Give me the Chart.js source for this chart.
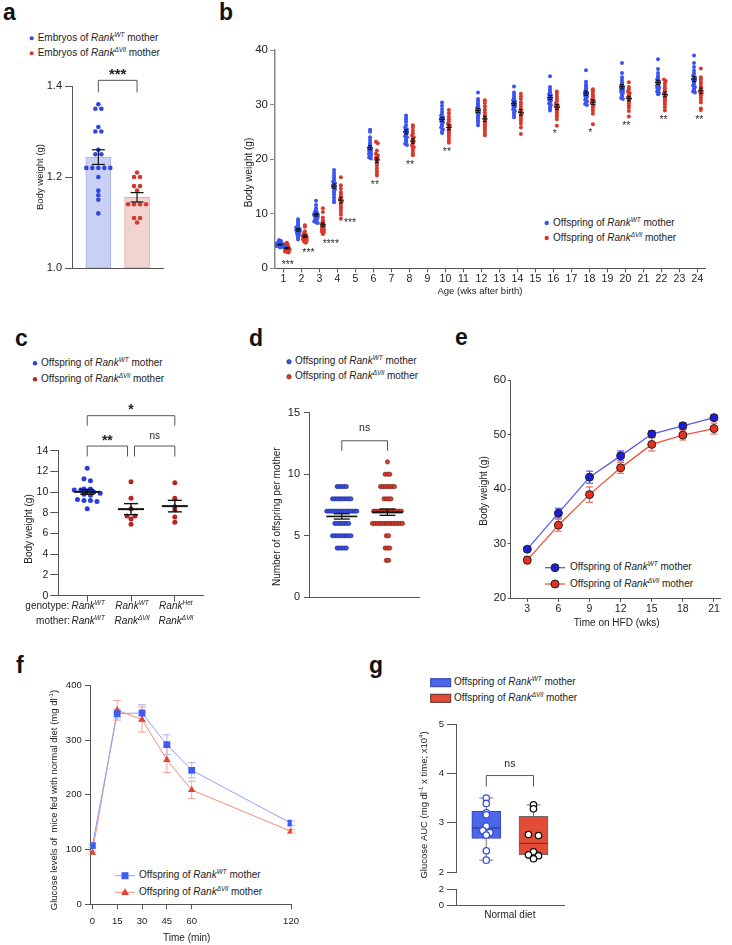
<!DOCTYPE html>
<html><head><meta charset="utf-8">
<script src="https://cdn.jsdelivr.net/npm/chart.js@4.4.1/dist/chart.umd.min.js"></script>
<style>
html,body{margin:0;padding:0;background:#fff;}
#root{position:relative;width:732px;height:945px;overflow:hidden;font-family:'Liberation Sans',Arial,Helvetica,sans-serif;color:#222;}
#root canvas{position:absolute;}
.pl{position:absolute;font-weight:bold;font-size:23px;line-height:23px;color:#111;}
.lg{position:absolute;font-size:10px;line-height:12px;white-space:nowrap;color:#222;}
.lg sup{font-size:6.5px;font-style:italic;vertical-align:baseline;position:relative;top:-4px;}
#lgsvg{position:absolute;left:0;top:0;}
</style></head>
<body><div id="root">
<div class="pl" style="left:3px;top:0.5px">a</div>
<div class="pl" style="left:219px;top:1.2px">b</div>
<div class="pl" style="left:15px;top:326.5px">c</div>
<div class="pl" style="left:249px;top:327.2px">d</div>
<div class="pl" style="left:455px;top:326.2px">e</div>
<div class="pl" style="left:16px;top:653.8px">f</div>
<div class="pl" style="left:369px;top:653.5px">g</div>

<svg id="lgsvg" width="732" height="945">
  <circle cx="31.7" cy="38.3" r="2" fill="#3146dc"/>
  <circle cx="31.7" cy="53.3" r="2" fill="#d23b2c"/>
  <circle cx="546.7" cy="223" r="2.2" fill="#3a55ee"/>
  <circle cx="546.7" cy="238" r="2.2" fill="#d8392b"/>
  <circle cx="35" cy="363.3" r="2.2" fill="#2a3de0"/>
  <circle cx="35" cy="379.3" r="2.2" fill="#b3261e"/>
  <circle cx="289" cy="361.7" r="2.2" fill="#3d52e6" stroke="#1c2a8c" stroke-width="0.7"/>
  <circle cx="289" cy="376.7" r="2.2" fill="#d8402f" stroke="#7a1a10" stroke-width="0.7"/>
  <line x1="545" y1="567.7" x2="565" y2="567.7" stroke="#5a5af2" stroke-width="1.3"/>
  <circle cx="555" cy="567.7" r="4" fill="#1e1ed6" stroke="#222" stroke-width="1"/>
  <line x1="545" y1="584" x2="565" y2="584" stroke="#f0503c" stroke-width="1.3"/>
  <circle cx="555" cy="584" r="4" fill="#e8321e" stroke="#222" stroke-width="1"/>
  <line x1="115" y1="875.7" x2="135" y2="875.7" stroke="#8fa2f3" stroke-width="1"/>
  <rect x="121.5" y="872.2" width="7" height="7" fill="#3d5cf6"/>
  <line x1="115" y1="892.3" x2="135" y2="892.3" stroke="#f28b7b" stroke-width="1"/>
  <polygon points="125,888.3 129,895 121,895" fill="#e5432f"/>
  <rect x="430.7" y="678.7" width="20" height="8" fill="#4c66ea" stroke="#2b3ca8" stroke-width="1"/>
  <rect x="430.7" y="694.3" width="20" height="8" fill="#e24b35" stroke="#5a2a20" stroke-width="1"/>
</svg>

<div class="lg" style="left:37.7px;top:31.8px">Embryos of <i>Rank</i><sup>WT</sup> mother</div>
<div class="lg" style="left:37.7px;top:46.8px">Embryos of <i>Rank</i><sup>ΔVil</sup> mother</div>
<div class="lg" style="left:553px;top:216.5px">Offspring of <i>Rank</i><sup>WT</sup> mother</div>
<div class="lg" style="left:553px;top:231.5px">Offspring of <i>Rank</i><sup>ΔVil</sup> mother</div>
<div class="lg" style="left:41px;top:356.8px">Offspring of <i>Rank</i><sup>WT</sup> mother</div>
<div class="lg" style="left:41px;top:372.8px">Offspring of <i>Rank</i><sup>ΔVil</sup> mother</div>
<div class="lg" style="left:295px;top:355.2px">Offspring of <i>Rank</i><sup>WT</sup> mother</div>
<div class="lg" style="left:295px;top:370.2px">Offspring of <i>Rank</i><sup>ΔVil</sup> mother</div>
<div class="lg" style="left:570px;top:561.2px">Offspring of <i>Rank</i><sup>WT</sup> mother</div>
<div class="lg" style="left:570px;top:577.5px">Offspring of <i>Rank</i><sup>ΔVil</sup> mother</div>
<div class="lg" style="left:139px;top:869.2px">Offspring of <i>Rank</i><sup>WT</sup> mother</div>
<div class="lg" style="left:139px;top:885.8px">Offspring of <i>Rank</i><sup>ΔVil</sup> mother</div>
<div class="lg" style="left:454px;top:676.2px">Offspring of <i>Rank</i><sup>WT</sup> mother</div>
<div class="lg" style="left:454px;top:691.8px">Offspring of <i>Rank</i><sup>ΔVil</sup> mother</div>
</div>
<script>
const FF = "'Liberation Sans', Arial, Helvetica, sans-serif";

// ================= DATA =================
// (a) embryo body weight (g)
const aWT  = [1.36,1.35,1.35,1.31,1.30,1.30,1.26,1.25,1.25,1.22,1.22,1.22,1.22,1.22,1.20,1.17,1.16,1.15,1.12];
const aVil = [1.21,1.20,1.20,1.18,1.18,1.17,1.14,1.14,1.14,1.14,1.11,1.11,1.10];
const aYTicks = [1.0, 1.2, 1.4];
const aSig = '***';

// (b) body weight by age (weeks)
const bWeeks  = [1,2,3,4,6,8,10,12,14,16,18,20,22,24];
const bXTicks = [1,2,3,4,5,6,7,8,9,10,11,12,13,14,15,16,17,18,19,20,21,22,23,24];
const bYTicks = [0,10,20,30,40];
const bWT = [
 [5.2,5.0,4.8,4.7,4.6,4.5,4.4,4.4,4.3,4.3,4.2,4.1,4.1,4.0,4.0,3.9,3.9,3.8],
 [9.0,8.7,8.4,8.0,7.7,7.5,7.3,7.2,7.0,6.9,6.8,6.6,6.5,6.3,6.1,5.9,5.6,5.3],
 [12.4,11.6,11.0,10.6,10.4,10.2,10.0,9.9,9.8,9.7,9.5,9.4,9.2,9.0,8.8,8.6,8.4,8.3],
 [18.0,17.5,17.0,16.6,16.2,15.9,15.6,15.4,15.2,15.0,14.8,14.5,14.2,13.9,13.5,13.0,12.5,12.1],
 [25.4,25.0,24.0,23.5,23.0,22.7,22.4,22.1,21.9,21.7,21.5,21.3,21.1,20.9,20.7,20.5,20.3,20.1],
 [28.0,27.6,27.2,26.8,26.2,25.8,25.5,25.2,25.0,24.8,24.5,24.2,24.0,23.7,23.4,23.1,22.8,22.6],
 [30.4,29.8,29.2,28.7,28.3,28.0,27.7,27.5,27.3,27.1,26.9,26.7,26.4,26.1,25.8,25.5,25.1,24.8],
 [32.2,31.0,30.7,30.3,30.0,29.7,29.4,29.2,29.0,28.8,28.6,28.4,28.1,27.8,27.5,27.1,26.7,26.2],
 [33.3,32.2,31.8,31.4,31.1,30.8,30.6,30.4,30.2,30.0,29.8,29.6,29.4,29.1,28.8,28.5,28.1,27.7],
 [35.2,33.2,32.8,32.5,32.2,31.9,31.7,31.5,31.3,31.1,30.9,30.7,30.5,30.2,29.9,29.6,29.3,28.9],
 [36.3,34.2,33.7,33.3,33.0,32.7,32.4,32.2,32.0,31.8,31.6,31.4,31.2,30.9,30.6,30.3,30.1,29.9],
 [37.6,35.8,35.0,34.5,34.1,33.8,33.5,33.3,33.1,32.9,32.7,32.5,32.3,32.1,31.8,31.5,31.2,31.0],
 [38.3,36.5,35.8,35.3,34.9,34.6,34.3,34.1,33.9,33.7,33.5,33.3,33.1,32.9,32.6,32.4,32.1,31.9],
 [39.0,37.6,36.9,36.2,35.7,35.3,35.0,34.8,34.6,34.4,34.1,33.8,33.5,33.2,32.9,32.6,32.4,32.2]
];
const bVil = [
 [4.7,4.5,4.3,4.1,4.0,3.9,3.8,3.7,3.6,3.5,3.4,3.3,3.2,3.1,3.0,2.9],
 [7.9,7.6,6.8,6.4,6.2,6.0,5.9,5.8,5.6,5.5,5.4,5.3,5.1,5.0,4.9,4.7],
 [11.0,10.3,9.3,8.8,8.5,8.2,8.0,7.8,7.6,7.4,7.2,7.0,6.9,6.7,6.5,6.3],
 [16.7,15.2,14.6,14.0,13.6,13.2,12.9,12.6,12.3,12.0,11.6,11.2,10.8,10.3,9.8,9.1],
 [23.2,22.9,21.6,21.0,20.7,20.4,20.2,20.0,19.8,19.5,19.2,18.8,18.3,17.8,17.3,17.0],
 [26.2,25.8,25.2,24.7,24.3,24.0,23.7,23.4,23.1,22.8,22.5,22.2,21.9,21.5,21.1,20.7],
 [29.0,28.4,27.8,27.3,26.9,26.5,26.2,25.9,25.6,25.3,25.0,24.7,24.3,23.9,23.4,23.0],
 [30.8,30.3,29.7,29.1,28.6,28.1,27.7,27.4,27.1,26.8,26.4,26.0,25.6,25.2,24.8,24.4],
 [32.0,31.5,31.0,30.4,29.9,29.4,29.0,28.7,28.4,28.1,27.8,27.4,27.0,26.5,25.8,24.6],
 [32.4,32.0,31.5,31.0,30.6,30.2,29.9,29.7,29.5,29.2,28.9,28.6,28.2,27.8,27.3,26.1],
 [32.8,32.6,32.3,31.9,31.5,31.2,30.9,30.7,30.5,30.2,29.9,29.6,29.2,28.8,28.3,26.4],
 [34.1,33.2,32.8,32.4,32.1,31.8,31.5,31.3,31.1,30.8,30.5,30.2,29.8,29.4,28.8,27.8],
 [34.6,34.3,33.9,33.4,33.0,32.6,32.3,32.0,31.7,31.4,31.1,30.8,30.4,30.0,29.5,28.9],
 [36.6,35.0,34.6,34.2,33.8,33.4,33.0,32.7,32.4,32.1,31.7,31.3,30.9,30.4,29.3,29.0]
];
const bSig = ['***','***','****','***','**','**','**','','','*','*','**','**','**'];

// (c) body weight by genotype / mother
const cGenotype = ['WT','WT','Het'];
const cMother   = ['WT','ΔVil','ΔVil'];
const cWT    = [12.3,11.3,11.1,10.3,10.3,10.2,10.2,10.1,10.0,9.9,9.8,9.7,9.3,9.2,9.2,9.1,8.4];
const cVilWT = [11.0,9.4,8.4,7.7,7.7,7.4,6.9];
const cVilHet= [10.9,9.4,8.6,8.3,7.6,7.1];
const cYTicks = [0,2,4,6,8,10,12,14];
const cSig = ['*','**','ns'];

// (d) number of offspring per mother (value levels and counts)
const dLevels   = [3,4,5,6,7,8,9,10,11];
const dWTCount  = [0,5,9,7,14,9,5,0,0];
const dVilCount = [2,3,2,14,13,4,7,3,1];
const dYTicks = [0,5,10,15];
const dSig = 'ns';

// (e) body weight on HFD
const eWeeks  = [3,6,9,12,15,18,21];
const eWT     = [29.0,35.6,42.2,46.1,50.1,51.6,53.1];
const eWTsem  = [0.4,0.9,1.1,0.9,0.6,0.6,0.5];
const eVil    = [27.0,33.4,39.0,43.9,48.2,49.9,51.1];
const eVilsem = [0.7,1.1,1.4,1.0,1.2,0.9,1.0];
const eYTicks = [20,30,40,50,60];

// (f) glucose tolerance
const fTimes  = [0,15,30,45,60,120];
const fWT     = [107,349,350,292,245,148];
const fWTsem  = [3,8,15,18,14,4];
const fVil    = [94,355,338,264,209,133];
const fVilsem = [3,18,23,23,16,3];
const fYTicks = [0,100,200,300,400];

// (g) glucose AUC (x10^4)
const gCategory = 'Normal diet';
const gWT  = [3.50,3.39,3.20,3.16,2.93,2.84,2.80,2.75,2.43,2.24];
const gVil = [3.36,3.28,2.76,2.74,2.41,2.35,2.33,2.27];
const gWTBox  = [2.24,2.68,2.89,3.23,3.50];   // min, q1, median, q3, max
const gVilBox = [2.27,2.35,2.58,3.13,3.36];
const gYTicks = [2,3,4,5];
const gYTicksLow = [0,2];
const gSig = 'ns';

// ================= HELPERS =================
Chart.defaults.font.family = FF;
Chart.defaults.color = '#222';
Chart.defaults.animation = false;
Chart.defaults.responsive = false;
Chart.defaults.maintainAspectRatio = false;
Chart.defaults.devicePixelRatio = 1;
Chart.defaults.plugins.legend.display = false;
Chart.defaults.plugins.tooltip.enabled = false;
Chart.defaults.events = [];

const root = document.getElementById('root');
function makeCanvas(box){
  const c=document.createElement('canvas');
  c.width=box[2]; c.height=box[3];
  c.style.left=box[0]+'px'; c.style.top=box[1]+'px';
  c.style.width=box[2]+'px'; c.style.height=box[3]+'px';
  root.appendChild(c); return c;
}
function frame(box, area){
  return {padding:{left:0, top:area[1]-box[1], right:box[0]+box[2]-area[2], bottom:0},
          yw:area[0]-box[0], xh:box[1]+box[3]-area[3]};
}
function yAxis(fr,o){
  return {type:'linear', position:'left', min:o.min, max:o.max, offset:false,
    afterFit:s=>{s.width=fr.yw;},
    afterBuildTicks:s=>{s.ticks=o.ticks.map(v=>({value:v}));},
    ticks:{font:{size:o.fs}, color:'#222', padding:o.pad??3, autoSkip:false, callback:o.fmt||(v=>String(v))},
    grid:{drawOnChartArea:false, drawTicks:true, tickLength:o.tl??6, color:o.ac||'#555', lineWidth:1, offset:false},
    border:{display:true, color:o.ac||'#555', width:o.bw||1}};
}
function xAxis(fr,o){
  const a={type:'linear', position:'bottom', min:o.min, max:o.max, offset:false,
    afterFit:s=>{s.height=fr.xh;},
    ticks:{display:o.labels===true, font:{size:o.fs||10}, color:'#222', padding:o.pad??2, autoSkip:false, maxRotation:0, minRotation:0, callback:o.fmt||(v=>String(v))},
    grid:{display:(o.tl||0)>0, drawOnChartArea:false, drawTicks:true, tickLength:o.tl||0, color:o.ac||'#555', lineWidth:1, offset:false},
    border:{display:true, color:o.ac||'#555', width:1}};
  if(o.ticks) a.afterBuildTicks=s=>{s.ticks=o.ticks.map(v=>({value:v}));};
  return a;
}
function mean(a){return a.reduce((s,v)=>s+v,0)/a.length;}
function sem(a){const m=mean(a);return Math.sqrt(a.reduce((s,v)=>s+(v-m)*(v-m),0)/(a.length-1))/Math.sqrt(a.length);}
function rowSwarm(vals,yppu,binPx,spPx){
  const rows={};
  vals.forEach((v,i)=>{const k=Math.round(v*yppu/binPx);(rows[k]=rows[k]||[]).push(i);});
  const offs=new Array(vals.length).fill(0);
  Object.values(rows).forEach(idx=>idx.forEach((i,j)=>{offs[i]=(j-(idx.length-1)/2)*spPx;}));
  return offs;
}
function strip(vals,x0,xppu,yppu,binPx,spPx){
  const o=rowSwarm(vals,yppu,binPx,spPx);
  return vals.map((v,i)=>({x:x0+o[i]/xppu, y:v}));
}
function L(c,x1,y1,x2,y2){c.beginPath();c.moveTo(x1,y1);c.lineTo(x2,y2);c.stroke();}
function errBar(ch,x,m,s,o){
  const X=ch.scales.x.getPixelForValue(x), Y=ch.scales[o.yid||'y'];
  const ym=Y.getPixelForValue(m), yt=Y.getPixelForValue(m+s), yb=Y.getPixelForValue(m-s);
  const c=ch.ctx; c.save(); c.strokeStyle=o.color||'#111'; c.lineWidth=o.lw||1;
  L(c,X,yt,X,yb);
  if(o.cap){L(c,X-o.cap,yt,X+o.cap,yt);L(c,X-o.cap,yb,X+o.cap,yb);}
  if(o.mean){c.lineWidth=o.mlw||o.lw||1;L(c,X-o.mean,ym,X+o.mean,ym);}
  c.restore();
}
function ctext(c,t,x,yc,size,weight){
  c.font=(weight?weight+' ':'')+size+'px '+FF; c.textAlign='center'; c.textBaseline='alphabetic';
  const star=/^\*+$/.test(t);
  c.fillText(t,x,yc+(star?0.58:0.27)*size);
}
function bracket(ch,x1,x2,yTop,legPx,text,gapPx,size,weight,yid){
  const X=ch.scales.x, Y=ch.scales[yid||'y'], c=ch.ctx;
  const a=X.getPixelForValue(x1), b=X.getPixelForValue(x2), t=Y.getPixelForValue(yTop);
  c.save(); c.strokeStyle='#555'; c.lineWidth=1;
  c.beginPath(); c.moveTo(a,t+legPx); c.lineTo(a,t); c.lineTo(b,t); c.lineTo(b,t+legPx); c.stroke();
  c.fillStyle='#222'; ctext(c,text,(a+b)/2,t-gapPx,size,weight); c.restore();
}
function rich(c,segs,x,y,size,align){
  const f=s=>(s[2]?'italic ':'')+(s[1]?size*0.65:size)+'px '+FF;
  let w=0; const ws=[];
  segs.forEach(s=>{c.font=f(s);const m=c.measureText(s[0]).width;ws.push(m);w+=m;});
  let cx=align==='center'?x-w/2:align==='right'?x-w:x;
  c.textAlign='left'; c.textBaseline='alphabetic';
  segs.forEach((s,i)=>{c.font=f(s);c.fillText(s[0],cx,s[1]?y-size*0.4:y);cx+=ws[i];});
}
function vtitle(c,segs,x,y,size){c.save();c.fillStyle='#222';c.translate(x,y);c.rotate(-Math.PI/2);rich(c,segs,0,size*0.35,size,'center');c.restore();}
function htitle(c,segs,x,y,size){c.save();c.fillStyle='#222';rich(c,segs,x,y+size*0.35,size,'center');c.restore();}

// ================= PANEL a =================
(function(){
  const box=[0,30,190,270], fr=frame(box,[72,86,163,268]);
  new Chart(makeCanvas(box),{type:'scatter',
    data:{datasets:[
      {type:'bar', data:[{x:1,y:[aYTicks[0],mean(aWT)]},{x:2,y:[aYTicks[0],mean(aVil)]}],
       backgroundColor:['#c9d0f5','#f1d4d0'], borderColor:['#a7b1e4','#d9b1ab'], borderWidth:1, borderSkipped:false, barThickness:25, order:1},
      {data:strip(aWT,1,38.7,455,4,6), pointRadius:2.3, backgroundColor:'#3146dc', pointBackgroundColor:'#3146dc', pointBorderWidth:0, order:0},
      {data:strip(aVil,2,38.7,455,4,6), pointRadius:2.3, backgroundColor:'#d23b2c', pointBackgroundColor:'#d23b2c', pointBorderWidth:0, order:0}
    ]},
    options:{layout:{padding:fr.padding}, scales:{
      x:xAxis(fr,{min:0.32,max:2.67}),
      y:yAxis(fr,{min:1.0,max:1.4,ticks:aYTicks,fs:11,tl:7,pad:3,fmt:v=>Number(v).toFixed(1)})}},
    plugins:[{id:'pa',afterDatasetsDraw(ch){
      errBar(ch,1,mean(aWT),sem(aWT),{cap:6.5,lw:1.2});
      errBar(ch,2,mean(aVil),sem(aVil),{cap:6.5,lw:1.2});
      bracket(ch,1,2,1.4125,12,aSig,9.6,15,'bold');
      vtitle(ch.ctx,[['Body weight (g)']],40-box[0],177-box[1],9.5);
    }}]});
})();

// ================= PANEL b =================
(function(){
  const box=[200,30,532,275], fr=frame(box,[275,50,705,268.3]), dx=0.19;
  const wtPts=bWeeks.flatMap((w,i)=>strip(bWT[i],w-dx,18.02,5.46,2,1.8));
  const vilPts=bWeeks.flatMap((w,i)=>strip(bVil[i],w+dx,18.02,5.46,2,1.8));
  new Chart(makeCanvas(box),{type:'scatter',
    data:{datasets:[
      {data:wtPts, pointRadius:2, backgroundColor:'#3a55ee', pointBackgroundColor:'#3a55ee', pointBorderWidth:0},
      {data:vilPts, pointRadius:2, backgroundColor:'#d8392b', pointBackgroundColor:'#d8392b', pointBorderWidth:0}
    ]},
    options:{layout:{padding:fr.padding}, scales:{
      x:xAxis(fr,{min:0.53,max:24.42,ticks:bXTicks,labels:true,fs:10.5,tl:4,pad:1,ac:'#555'}),
      y:yAxis(fr,{min:0,max:40,ticks:bYTicks,fs:11.5,tl:5,pad:2,ac:'#888',bw:1.5})}},
    plugins:[{id:'pb',afterDatasetsDraw(ch){
      const c=ch.ctx, X=ch.scales.x, Y=ch.scales.y;
      bWeeks.forEach((w,i)=>{
        errBar(ch,w-dx,mean(bWT[i]),sem(bWT[i]),{cap:2,mean:3,lw:1});
        errBar(ch,w+dx,mean(bVil[i]),sem(bVil[i]),{cap:2,mean:3,lw:1});
      });
      const sx=[0.24,0.39,0.63,0.7,0.08,0.03,0.08,0,0,0.08,0.05,0.05,0.12,0.1];
      const sy=[9,7.5,7,1.5,6.5,6.5,6,0,0,5.5,5.5,6.5,6.5,6.5];
      c.save(); c.fillStyle='#333';
      bWeeks.forEach((w,i)=>{ if(!bSig[i]) return;
        ctext(c,bSig[i],X.getPixelForValue(w+sx[i]),Y.getPixelForValue(Math.min(...bVil[i]))+sy[i],10.5,'');});
      c.restore();
      vtitle(c,[['Body weight (g)']],248-box[0],172.5-box[1],10);
      htitle(c,[['Age (wks after birth)']],480-box[0],291-box[1],9.5);
    }}]});
})();

// ================= PANEL c =================
(function(){
  const box=[0,390,215,245], fr=frame(box,[58.3,450.7,203.3,595.7]);
  new Chart(makeCanvas(box),{type:'scatter',
    data:{datasets:[
      {data:strip(cWT,0,43.85,10.36,4,6.5), pointRadius:2.5, backgroundColor:'#2a3de0', pointBackgroundColor:'#2a3de0', pointBorderWidth:0},
      {data:strip(cVilWT,1,43.85,10.36,4,8), pointRadius:2.5, backgroundColor:'#b3261e', pointBackgroundColor:'#b3261e', pointBorderWidth:0},
      {data:strip(cVilHet,2,43.85,10.36,4,8), pointRadius:2.5, backgroundColor:'#b3261e', pointBackgroundColor:'#b3261e', pointBorderWidth:0}
    ]},
    options:{layout:{padding:fr.padding}, scales:{
      x:xAxis(fr,{min:-0.66,max:2.65,ticks:[0,1,2],tl:6}),
      y:yAxis(fr,{min:0,max:14,ticks:cYTicks,fs:10.5,tl:8,pad:2})}},
    plugins:[{id:'pc',afterDatasetsDraw(ch){
      const c=ch.ctx, X=ch.scales.x;
      [cWT,cVilWT,cVilHet].forEach((g,i)=>errBar(ch,i,mean(g),sem(g),{cap:7,mean:13,lw:1.4,mlw:2}));
      bracket(ch,0,2,17.38,10,cSig[0],10,14,'bold');
      bracket(ch,0,0.92,14.45,10.5,cSig[1],9.3,14,'bold');
      bracket(ch,1.08,2,14.45,10.5,cSig[2],9.3,10,'');
      c.save(); c.fillStyle='#222'; c.font='10px '+FF; c.textAlign='right'; c.textBaseline='alphabetic';
      c.fillText('genotype:',69.3-box[0],609.3-box[1]);
      c.fillText('mother:',70-box[0],623.6-box[1]);
      cGenotype.forEach((g,i)=>rich(c,[['Rank',0,1],[g,1,1]],X.getPixelForValue(i)+1,609.3-box[1],10,'center'));
      cMother.forEach((g,i)=>rich(c,[['Rank',0,1],[g,1,1]],X.getPixelForValue(i)+1,623.6-box[1],10,'center'));
      c.restore();
      vtitle(c,[['Body weight (g)']],28.3-box[0],529-box[1],10);
    }}]});
})();

// ================= PANEL d =================
(function(){
  const box=[215,390,215,235], fr=frame(box,[309.3,412.7,419,597.3]);
  const wt=dLevels.flatMap((v,i)=>Array(dWTCount[i]).fill(v));
  const vil=dLevels.flatMap((v,i)=>Array(dVilCount[i]).fill(v));
  new Chart(makeCanvas(box),{type:'scatter',
    data:{datasets:[
      {data:strip(wt,0,45.6,12.31,3,2.3), pointRadius:2.1, backgroundColor:'#3d52e6', pointBackgroundColor:'#3d52e6', pointBorderColor:'#1c2a8c', pointBorderWidth:0.7},
      {data:strip(vil,1,45.6,12.31,3,2.3), pointRadius:2.1, backgroundColor:'#d8402f', pointBackgroundColor:'#d8402f', pointBorderColor:'#7a1a10', pointBorderWidth:0.7}
    ]},
    options:{layout:{padding:fr.padding}, scales:{
      x:xAxis(fr,{min:-0.71,max:1.69}),
      y:yAxis(fr,{min:0,max:15,ticks:dYTicks,fs:11,tl:5.3,pad:4})}},
    plugins:[{id:'pd',afterDatasetsDraw(ch){
      const c=ch.ctx;
      errBar(ch,0,mean(wt),sem(wt),{cap:8,mean:15.5,lw:1.3,mlw:1.6});
      errBar(ch,1,mean(vil),sem(vil),{cap:8,mean:15.5,lw:1.3,mlw:1.6});
      bracket(ch,0,1,12.72,10,dSig,12.4,10.5,'');
      vtitle(c,[['Number of offspring per mother']],276.7-box[0],516.7-box[1],10);
    }}]});
})();

// ================= PANEL e =================
(function(){
  const box=[440,360,292,275], fr=frame(box,[510.7,380,720,598.3]);
  new Chart(makeCanvas(box),{type:'scatter',
    data:{datasets:[
      {type:'line', data:eWeeks.map((w,i)=>({x:w,y:eWT[i]})), borderColor:'#5a5af2', borderWidth:1.3, fill:false, tension:0,
       pointRadius:4, pointBackgroundColor:'#1e1ed6', pointBorderColor:'#222', pointBorderWidth:1},
      {type:'line', data:eWeeks.map((w,i)=>({x:w,y:eVil[i]})), borderColor:'#f0503c', borderWidth:1.3, fill:false, tension:0,
       pointRadius:4, pointBackgroundColor:'#e8321e', pointBorderColor:'#222', pointBorderWidth:1}
    ]},
    options:{layout:{padding:fr.padding}, scales:{
      x:xAxis(fr,{min:1.4,max:21.58,ticks:eWeeks,labels:true,fs:10.5,tl:3.5,pad:1.4}),
      y:yAxis(fr,{min:20,max:60,ticks:eYTicks,fs:11.5,tl:3,pad:1.5})}},
    plugins:[{id:'pe',beforeDatasetsDraw(ch){
      eWeeks.forEach((w,i)=>{
        errBar(ch,w,eWT[i],eWTsem[i],{cap:3.5,lw:1.1,color:'#4a4af0'});
        errBar(ch,w,eVil[i],eVilsem[i],{cap:3.5,lw:1.1,color:'#f06050'});
      });
    },afterDatasetsDraw(ch){
      const c=ch.ctx;
      vtitle(c,[['Body weight (g)']],483-box[0],491-box[1],10);
      htitle(c,[['Time on HFD (wks)']],616.7-box[0],622.7-box[1],10);
    }}]});
})();

// ================= PANEL f =================
(function(){
  const box=[0,650,370,295], fr=frame(box,[90.7,685.7,291.7,904]);
  new Chart(makeCanvas(box),{type:'scatter',
    data:{datasets:[
      {type:'line', data:fTimes.map((t,i)=>({x:t,y:fWT[i]})), borderColor:'#8fa2f3', borderWidth:1, fill:false, tension:0,
       pointStyle:'rect', pointRadius:4.8, pointBackgroundColor:'#3d5cf6', pointBorderWidth:0},
      {type:'line', data:fTimes.map((t,i)=>({x:t,y:fVil[i]})), borderColor:'#f28b7b', borderWidth:1, fill:false, tension:0,
       pointStyle:'triangle', pointRadius:4.3, pointBackgroundColor:'#e5432f', pointBorderWidth:0}
    ]},
    options:{layout:{padding:fr.padding}, scales:{
      x:xAxis(fr,{min:-1,max:120.4,ticks:fTimes,labels:true,fs:9.5,tl:5.3,pad:6.3}),
      y:yAxis(fr,{min:0,max:400,ticks:fYTicks,fs:9.5,tl:5.7,pad:3.3})}},
    plugins:[{id:'pf',beforeDatasetsDraw(ch){
      fTimes.forEach((t,i)=>{
        errBar(ch,t,fWT[i],fWTsem[i],{cap:4,lw:1,color:'#a9b5f2'});
        errBar(ch,t,fVil[i],fVilsem[i],{cap:4,lw:1,color:'#f2a597'});
      });
    },afterDatasetsDraw(ch){
      const c=ch.ctx;
      vtitle(c,[['Glucose levels of  mice fed with normal diet (mg dl'],['-1',1,0],[')']],53.3-box[0],800-box[1],9.5);
      htitle(c,[['Time (min)']],186.7-box[0],937.3-box[1],10);
    }}]});
})();

// ================= PANEL g =================
(function(){
  const box=[380,700,352,245], fr=frame(box,[456,724,564.3,905]);
  const yU=yAxis(fr,{min:2,max:5,ticks:gYTicks,fs:9.5,tl:9,pad:3}); yU.stack='g'; yU.stackWeight=148; yU.weight=3;
  const yL=yAxis(fr,{min:0,max:2,ticks:gYTicksLow,fs:9.5,tl:9,pad:3}); yL.stack='g'; yL.stackWeight=16; yL.weight=1;
  const yGap={type:'linear', position:'left', display:false, min:0, max:1, stack:'g', stackWeight:17, weight:2};
  const boxes=[gWTBox,gVilBox];
  new Chart(makeCanvas(box),{type:'scatter',
    data:{datasets:[
      {type:'bar', yAxisID:'y', data:boxes.map((b,i)=>({x:i+1,y:[b[1],b[3]]})),
       backgroundColor:['#4c66ea','#e24b35'], borderColor:['#3548c4','#6a6a6a'], borderWidth:1, borderSkipped:false, barThickness:29, order:1},
      {yAxisID:'y', data:strip(gWT,1,47.2,49.4,5,7), pointRadius:3.2, backgroundColor:'#fff', pointBackgroundColor:'#fff', pointBorderColor:'#3b50e0', pointBorderWidth:1.3, order:0},
      {yAxisID:'y', data:strip(gVil,2,47.2,49.4,5,10), pointRadius:3.2, backgroundColor:'#fff', pointBackgroundColor:'#fff', pointBorderColor:'#111', pointBorderWidth:1.3, order:0}
    ]},
    options:{layout:{padding:fr.padding}, scales:{
      x:xAxis(fr,{min:0.358,max:2.653,ticks:[1.5],labels:true,fs:10,tl:0,pad:4.5,fmt:()=>gCategory}),
      y:yU, yGap:yGap, y2:yL}},
    plugins:[{id:'pg',afterDatasetDraw(ch,args){
      if(args.index!==0) return;
      const X=ch.scales.x, Y=ch.scales.y, c=ch.ctx;
      boxes.forEach((b,i)=>{
        const x=X.getPixelForValue(i+1);
        c.save(); c.strokeStyle='#777'; c.lineWidth=1;
        L(c,x,Y.getPixelForValue(b[3]),x,Y.getPixelForValue(b[4]));
        L(c,x,Y.getPixelForValue(b[1]),x,Y.getPixelForValue(b[0]));
        L(c,x-7,Y.getPixelForValue(b[4]),x+7,Y.getPixelForValue(b[4]));
        L(c,x-7,Y.getPixelForValue(b[0]),x+7,Y.getPixelForValue(b[0]));
        c.strokeStyle=i?'#8b3020':'#2c3c9c'; c.lineWidth=1.2;
        L(c,x-14.5,Y.getPixelForValue(b[2]),x+14.5,Y.getPixelForValue(b[2]));
        c.restore();
      });
    },afterDatasetsDraw(ch){
      const c=ch.ctx;
      bracket(ch,1,2,3.955,11,gSig,11.7,10.5,'');
      vtitle(c,[['Glucose AUC (mg dl'],['-1',1,0],[' x time; x10'],['4',1,0],[')']],423.3-box[0],805-box[1],9.5);
    }}]});
})();
</script>
</body></html>
